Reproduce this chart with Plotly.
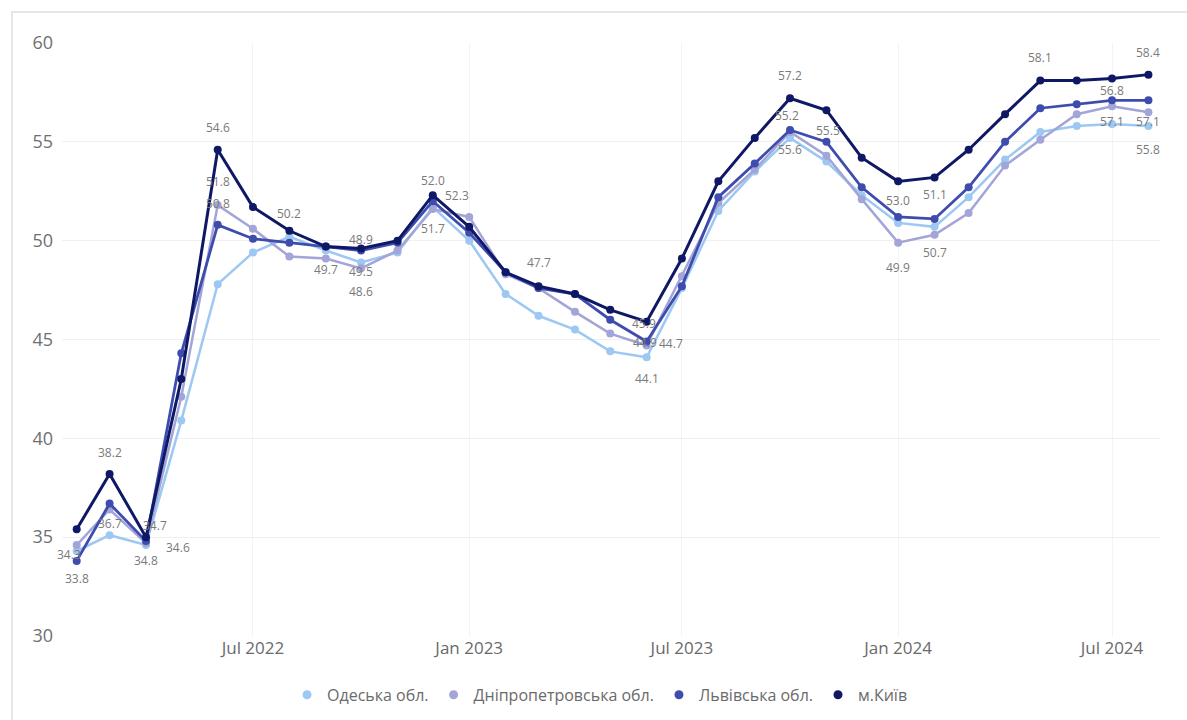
import pandas as pd
import plotly.graph_objects as go

# Monthly index values, Feb 2022 - Aug 2024
months = pd.date_range("2022-02-01", "2024-08-01", freq="MS")

odesa = [34.3, 35.1, 34.6, 40.9, 47.8, 49.4, 50.2, 49.5, 48.9, 49.4, 51.7, 50.0,
         47.3, 46.2, 45.5, 44.4, 44.1, 47.6, 51.5, 53.5, 55.2, 54.0, 52.3, 50.9,
         50.7, 52.2, 54.1, 55.5, 55.8, 55.9, 55.8]
dnipro = [34.6, 36.4, 34.7, 42.1, 51.8, 50.6, 49.2, 49.1, 48.6, 49.5, 51.6, 51.2,
          48.3, 47.6, 46.4, 45.3, 44.7, 48.2, 51.9, 53.6, 55.5, 54.3, 52.1, 49.9,
          50.3, 51.4, 53.8, 55.1, 56.4, 56.8, 56.5]
lviv = [33.8, 36.7, 34.8, 44.3, 50.8, 50.1, 49.9, 49.7, 49.5, 49.9, 52.0, 50.4,
        48.4, 47.6, 47.3, 46.0, 44.9, 47.7, 52.2, 53.9, 55.6, 55.0, 52.7, 51.2,
        51.1, 52.7, 55.0, 56.7, 56.9, 57.1, 57.1]
kyiv = [35.4, 38.2, 35.0, 43.0, 54.6, 51.7, 50.5, 49.7, 49.6, 50.0, 52.3, 50.7,
        48.4, 47.7, 47.3, 46.5, 45.9, 49.1, 53.0, 55.2, 57.2, 56.6, 54.2, 53.0,
        53.2, 54.6, 56.4, 58.1, 58.1, 58.2, 58.4]

series_names = ["Одеська обл.", "Дніпропетровська обл.", "Львівська обл.", "м.Київ"]
series_values = [odesa, dnipro, lviv, kyiv]
colors = ["#9cc8f2", "#a3a5d8", "#3e4cae", "#0f1865"]
widths = [2.5, 2.5, 2.8, 3.0]

y_ticks = [30, 35, 40, 45, 50, 55, 60]
x_ticks = ["2022-07-01", "2023-01-01", "2023-07-01", "2024-01-01", "2024-07-01"]
x_ticklabels = ["Jul 2022", "Jan 2023", "Jul 2023", "Jan 2024", "Jul 2024"]

# Data labels: (series index, month index, x offset px, y offset px)
label_spots = [
    (2, 0, 0, -18), (0, 0, -8, -3),
    (3, 1, 0, 21), (2, 1, 0, -20),
    (2, 2, 0, -19), (0, 2, 32, -2), (1, 2, 9, 18),
    (3, 4, 0, 22), (1, 4, 0, 24), (2, 4, 0, 21),
    (0, 6, 0, 23), (3, 7, 0, -23),
    (0, 8, 0, 23), (2, 8, 0, -21), (1, 8, 0, -23),
    (2, 10, 0, 21), (3, 10, 24, 0), (0, 10, 0, -21),
    (3, 13, 0, 24),
    (3, 16, -3, -2), (2, 16, -2, -1), (1, 16, 24, 2), (0, 16, 0, -21),
    (3, 20, 0, 23), (0, 20, -3, 22), (1, 20, 38, 1), (2, 20, 0, -20),
    (3, 23, 0, -19), (2, 24, 0, 24), (1, 23, 0, -25), (0, 24, 0, -26),
    (3, 27, 0, 23), (3, 30, 0, 22), (1, 29, 0, 16),
    (2, 29, 0, -21), (2, 30, 0, -21), (0, 30, 0, -23),
]

font_family = "Open Sans, Noto Sans, sans-serif"

fig = go.Figure()
for name, vals, col, w in zip(series_names, series_values, colors, widths):
    fig.add_trace(go.Scatter(
        x=months, y=vals, name=name, mode="lines+markers",
        line=dict(color=col, width=w),
        marker=dict(color=col, size=8),
        showlegend=False,
    ))

# Legend entries shown as plain dots
for name, col in zip(series_names, colors):
    fig.add_trace(go.Scatter(
        x=[None], y=[None], name=name, mode="markers",
        marker=dict(color=col, size=9), showlegend=True,
    ))

annotations = []
for s, i, dx, dy in label_spots:
    annotations.append(dict(
        x=months[i], y=series_values[s][i], xref="x", yref="y",
        text=f"{series_values[s][i]:.1f}", showarrow=False,
        xshift=dx, yshift=dy,
        font=dict(family=font_family, size=12, color="#7a7a7a"),
    ))

fig.update_layout(
    width=1187, height=720,
    margin=dict(l=62, r=27, t=43, b=84, autoexpand=False),
    paper_bgcolor="white", plot_bgcolor="white",
    font=dict(family=font_family, color="#666666"),
    showlegend=True,
    legend=dict(
        orientation="h", x=0.49, xanchor="center",
        yref="container", y=0.035, yanchor="middle",
        font=dict(size=16, color="#6a6a6a"), itemwidth=30,
        traceorder="normal",
    ),
    annotations=annotations,
    shapes=[dict(
        type="rect", xref="paper", yref="paper",
        x0=-0.0455, x1=1.2, y0=-0.3, y1=1.0523,
        line=dict(color="#e6e6e6", width=2), fillcolor="rgba(0,0,0,0)",
        layer="below",
    )],
)

fig.update_xaxes(
    type="date",
    range=["2022-01-19 12:00", "2024-08-10 20:00"],
    tickvals=x_ticks, ticktext=x_ticklabels,
    tickfont=dict(size=17, color="#6a6a6a"),
    showgrid=True, gridcolor="#f3f3f3", gridwidth=1,
    zeroline=False, showline=False, ticks="",
)
fig.update_yaxes(
    range=[30, 60], tickvals=y_ticks,
    tickfont=dict(size=18, color="#707070"),
    showgrid=True, gridcolor="#f0f0f0", gridwidth=1,
    zeroline=False, showline=False, ticks="", ticklabelstandoff=8,
)

fig.write_html("out.html")
